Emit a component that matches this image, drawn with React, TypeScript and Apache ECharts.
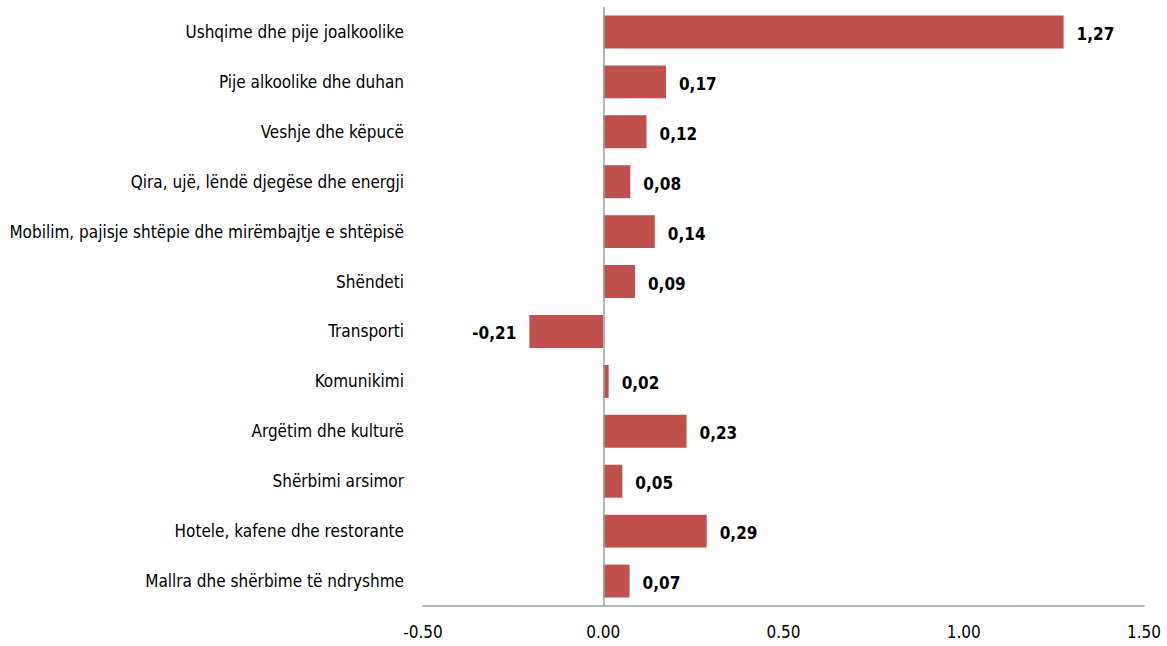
import React, { useEffect, useRef } from "react";
import * as echarts from "echarts";

const categories = [
  "Ushqime dhe pije joalkoolike",
  "Pije alkoolike dhe duhan",
  "Veshje dhe këpucë",
  "Qira, ujë, lëndë djegëse dhe energji",
  "Mobilim, pajisje shtëpie dhe mirëmbajtje e shtëpisë",
  "Shëndeti",
  "Transporti",
  "Komunikimi",
  "Argëtim dhe kulturë",
  "Shërbimi arsimor",
  "Hotele, kafene dhe restorante",
  "Mallra dhe shërbime të ndryshme",
];
const values = [1.277, 0.174, 0.12, 0.075, 0.143, 0.088, -0.205, 0.015, 0.231, 0.053, 0.287, 0.073];
const valueLabels = ["1,27", "0,17", "0,12", "0,08", "0,14", "0,09", "-0,21", "0,02", "0,23", "0,05", "0,29", "0,07"];
const xTicks = { min: -0.5, max: 1.5, interval: 0.5 };

const FONT = "'DejaVu Sans Condensed', 'Liberation Sans Narrow', sans-serif";

export default function App() {
  const ref = useRef<HTMLDivElement>(null);
  useEffect(() => {
    if (!ref.current) return;
    const chart = echarts.init(ref.current, undefined, { renderer: "svg" });
    chart.setOption({
      animation: false,
      grid: { left: 423, right: 23, top: 7, bottom: 40, containLabel: false, outerBoundsMode: "none" },
      xAxis: {
        type: "value",
        min: xTicks.min,
        max: xTicks.max,
        interval: xTicks.interval,
        axisLine: { show: true, onZero: false, lineStyle: { color: "#a0a0a0", width: 1.5 } },
        axisTick: { show: false },
        splitLine: { show: false },
        axisLabel: {
          color: "#000",
          fontFamily: FONT,
          fontSize: 17,
          margin: 17,
          formatter: (v: number) => v.toFixed(2),
        },
      },
      yAxis: {
        type: "category",
        data: categories,
        inverse: true,
        axisLine: { show: false },
        axisTick: { show: false },
        axisLabel: { color: "#000", fontFamily: FONT, fontSize: 17, margin: 19 },
      },
      series: [
        {
          type: "bar",
          barCategoryGap: "34%",
          itemStyle: { color: "#C0504D" },
          data: values.map((v) => ({
            value: v,
            label: { position: v < 0 ? "left" : "right" },
          })),
          label: {
            show: true,
            distance: 13,
            color: "#000",
            fontWeight: "bold",
            fontFamily: FONT,
            fontSize: 17,
            offset: [0, 2],
            formatter: (p: any) => valueLabels[p.dataIndex],
          },
          markLine: {
            silent: true,
            symbol: "none",
            label: { show: false },
            lineStyle: { color: "#a0a0a0", width: 1.5, type: "solid" },
            data: [{ xAxis: 0 }],
          },
        },
      ],
    });
    return () => chart.dispose();
  }, []);
  return (
    <div
      ref={ref}
      style={{ position: "absolute", left: 0, top: 0, width: 1167, height: 646 }}
    />
  );
}
